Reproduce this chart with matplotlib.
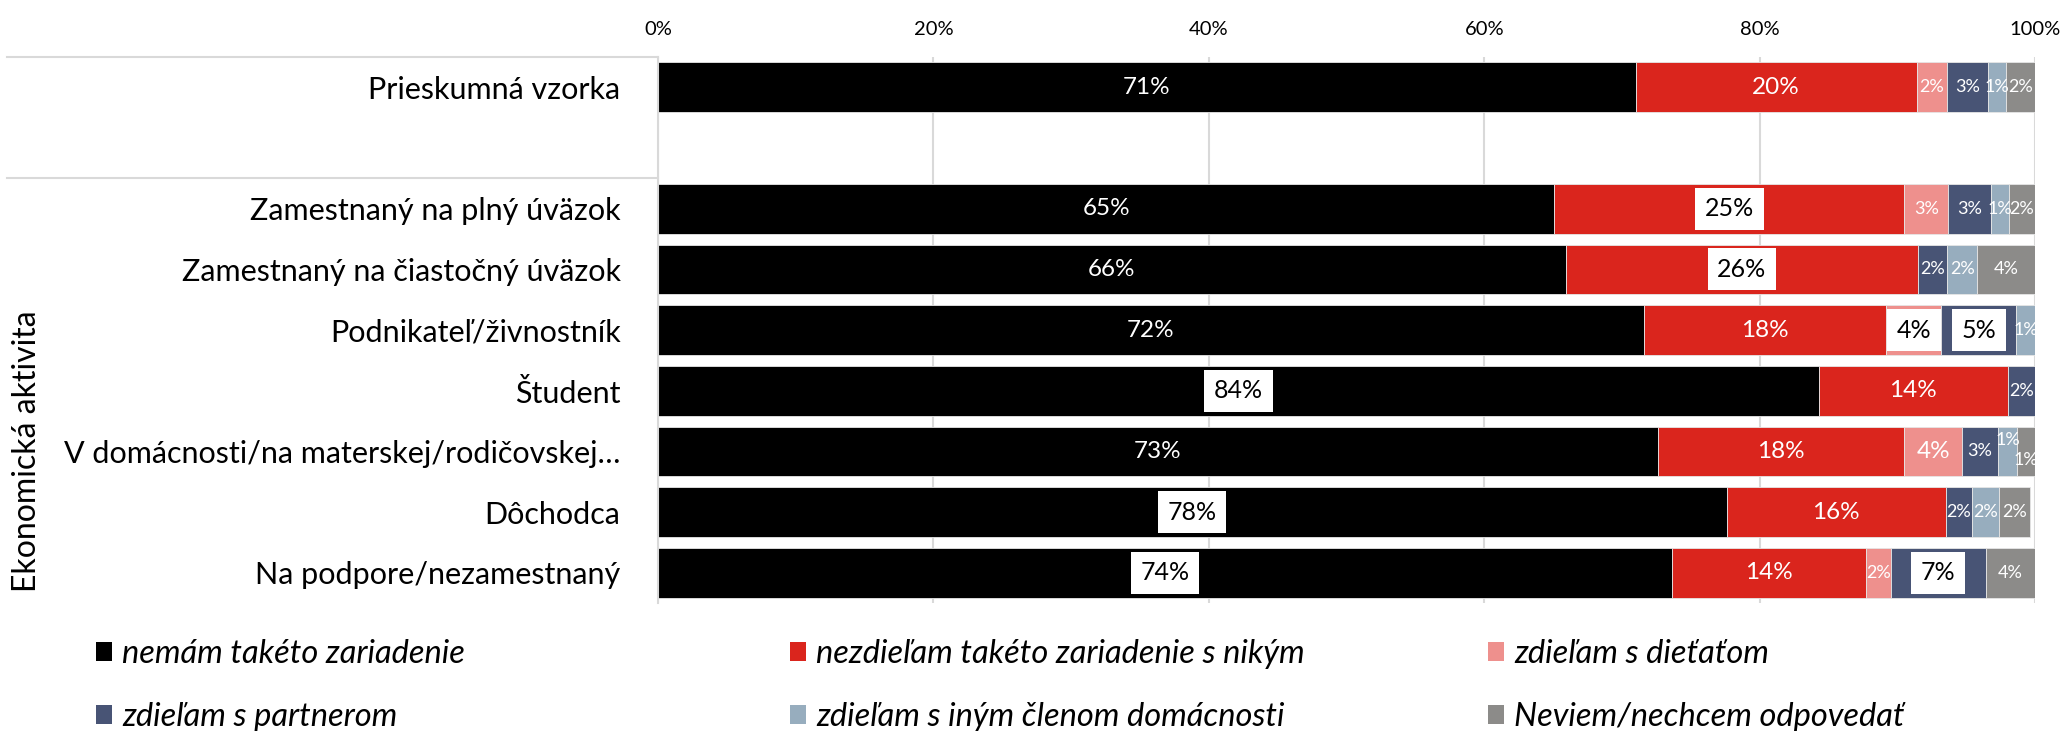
import numpy as np
import matplotlib
matplotlib.use("Agg")
import matplotlib.pyplot as plt
import matplotlib.transforms as mtransforms
from matplotlib.patches import Patch

plt.rcParams['font.family'] = ['Lato', 'DejaVu Sans']

categories = ["Prieskumná vzorka", "", "Zamestnaný na plný úväzok", "Zamestnaný na čiastočný úväzok",
              "Podnikateľ/živnostník", "Študent", "V domácnosti/na materskej/rodičovskej…",
              "Dôchodca", "Na podpore/nezamestnaný"]
group_label = "Ekonomická aktivita"

series_names = ["nemám takéto zariadenie", "nezdieľam takéto zariadenie s nikým", "zdieľam s dieťaťom",
                "zdieľam s partnerom", "zdieľam s iným členom domácnosti", "Neviem/nechcem odpovedať"]

nemam = [71.0, 0, 65.1, 65.9, 71.6, 84.3, 72.6, 77.6, 73.6]
nezdielam = [20.4, 0, 25.4, 25.6, 17.6, 13.7, 17.9, 15.9, 14.1]
dieta = [2.2, 0, 3.2, 0, 4.0, 0, 4.2, 0, 1.8]
partner = [3.0, 0, 3.1, 2.1, 5.4, 2.0, 2.6, 1.9, 6.9]
iny_clen = [1.3, 0, 1.3, 2.2, 1.4, 0, 1.4, 2.0, 0]
neviem = [2.1, 0, 1.9, 4.2, 0, 0, 1.3, 2.2, 3.6]

xticks = [0, 20, 40, 60, 80, 100]
xtick_labels = ["0%", "20%", "40%", "60%", "80%", "100%"]

data = [nemam, nezdielam, dieta, partner, iny_clen, neviem]
colors = ["#000000", "#DA251D", "#EE908D", "#485475", "#97ADBE", "#8C8B89"]

# labels shown in white boxes: (row, series)
boxed = {(2, 1), (3, 1), (4, 2), (4, 3), (5, 0), (7, 0), (8, 0), (8, 3)}
# small-segment labels drawn at the large size
big_extra = {(6, 2)}
# vertical offsets (points) of some labels
offsets = {(6, 4): 8, (6, 5): -6}

fig = plt.figure(figsize=(20.64, 7.31), dpi=100)
ax = fig.add_axes([0.3188, 0.1749, 0.6672, 0.7471])

y = np.arange(len(categories))
left = np.zeros(len(categories))
for si, (vals, col) in enumerate(zip(data, colors)):
    vals = np.array(vals, dtype=float)
    bars = ax.barh(y, vals, left=left, height=0.82, color=col, edgecolor='#e6e6e6', linewidth=0.6, zorder=2)
    for ri, (b, v) in enumerate(zip(bars, vals)):
        if v <= 0:
            continue
        cx = left[ri] + v / 2
        txt = f"{v:.0f}%"
        dy = offsets.get((ri, si), 0)
        if (ri, si) in boxed:
            ax.annotate(txt, (cx, ri), xytext=(0, dy), textcoords='offset points',
                        ha='center', va='center', fontsize=18, color='black', zorder=4,
                        bbox=dict(boxstyle='square,pad=0.38', fc='white', ec='none'))
        else:
            fs = 17.5 if (v >= 10 or (ri, si) in big_extra) else 13
            ax.annotate(txt, (cx, ri), xytext=(0, dy), textcoords='offset points',
                        ha='center', va='center', fontsize=fs, color='white', zorder=4)
    left += vals

ax.set_xlim(0, 100)
ax.set_ylim(8.5, -0.5)
ax.xaxis.tick_top()
ax.set_xticks(xticks, xtick_labels)
ax.tick_params(axis='x', length=0, pad=14, labelsize=14.5)
ax.set_yticks(y, categories)
ax.tick_params(axis='y', length=0, pad=27, labelsize=22)
ax.grid(axis='x', color='#d9d9d9', lw=1.5, zorder=0)
ax.set_axisbelow(True)
for s in ['top', 'right', 'bottom']:
    ax.spines[s].set_visible(False)
ax.spines['left'].set_color('#d9d9d9')
ax.spines['left'].set_linewidth(1.5)

trans = mtransforms.blended_transform_factory(ax.transAxes, ax.transData)
for yy in [-0.5, 1.5]:
    ax.plot([-0.473, 0], [yy, yy], transform=trans, clip_on=False, color='#d9d9d9', lw=1.5)
ax.text(-0.458, 6.0, group_label, transform=trans, rotation=90, ha='center', va='center', fontsize=23)

# legend: 2 rows x 3 columns
col_x = [0.0465, 0.3828, 0.7209]
row_y = [0.1053, 0.0192]
for k, (name, col) in enumerate(zip(series_names, colors)):
    r, c = divmod(k, 3)
    fig.legend(handles=[Patch(facecolor=col, edgecolor='none', label=name)],
               loc='center left', bbox_to_anchor=(col_x[c], row_y[r]),
               frameon=False, borderpad=0, borderaxespad=0, handlelength=0.5, handleheight=0.5,
               handletextpad=0.3, prop={'size': 23.5, 'style': 'italic'})

fig.savefig("out.png", dpi=100)
